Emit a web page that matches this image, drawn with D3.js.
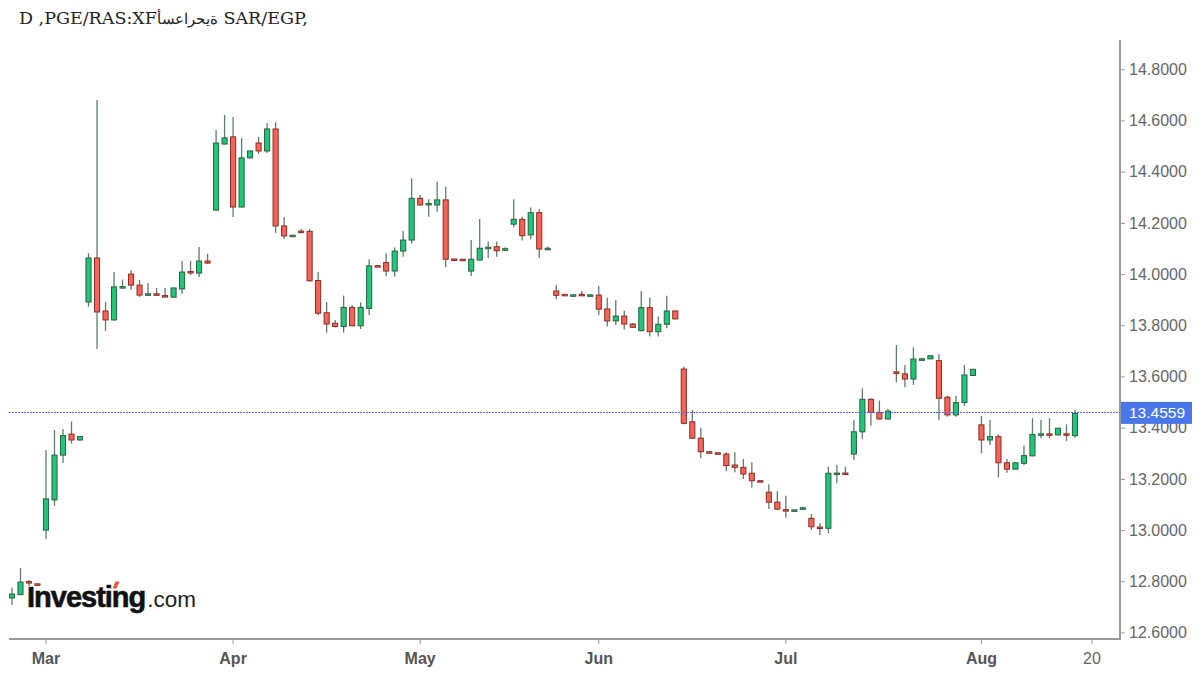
<!DOCTYPE html>
<html lang="en">

<head>
    <meta charset="UTF-8">
    <title>SAR/EGP daily candles</title>
    <script src="https://cdn.jsdelivr.net/npm/d3@7"></script>
    <style>
        body {
            margin: 0;
            background: #fff;
        }

        svg {
            display: block;
        }

        .yaxis text {
            font-family: "Liberation Sans", Arial, sans-serif;
            font-size: 16px;
            fill: #666;
        }

        .xaxis text {
            font-family: "Liberation Sans", Arial, sans-serif;
            font-size: 16px;
            font-weight: bold;
            fill: #555;
        }
    </style>
</head>

<body>
    <script>
        // trading days shown on the chart (2020, weekdays)
        const dates = [
            "2020-02-25", "2020-02-26", "2020-02-27", "2020-02-28",
            "2020-03-02", "2020-03-03", "2020-03-04", "2020-03-05", "2020-03-06",
            "2020-03-09", "2020-03-10", "2020-03-11", "2020-03-12", "2020-03-13",
            "2020-03-16", "2020-03-17", "2020-03-18", "2020-03-19", "2020-03-20",
            "2020-03-23", "2020-03-24", "2020-03-25", "2020-03-26", "2020-03-27",
            "2020-03-30", "2020-03-31",
            "2020-04-01", "2020-04-02", "2020-04-03",
            "2020-04-06", "2020-04-07", "2020-04-08", "2020-04-09", "2020-04-10",
            "2020-04-13", "2020-04-14", "2020-04-15", "2020-04-16", "2020-04-17",
            "2020-04-20", "2020-04-21", "2020-04-22", "2020-04-23", "2020-04-24",
            "2020-04-27", "2020-04-28", "2020-04-29", "2020-04-30",
            "2020-05-01",
            "2020-05-04", "2020-05-05", "2020-05-06", "2020-05-07", "2020-05-08",
            "2020-05-11", "2020-05-12", "2020-05-13", "2020-05-14", "2020-05-15",
            "2020-05-18", "2020-05-19", "2020-05-20", "2020-05-21", "2020-05-22",
            "2020-05-25", "2020-05-26", "2020-05-27", "2020-05-28", "2020-05-29",
            "2020-06-01", "2020-06-02", "2020-06-03", "2020-06-04", "2020-06-05",
            "2020-06-08", "2020-06-09", "2020-06-10", "2020-06-11", "2020-06-12",
            "2020-06-15", "2020-06-16", "2020-06-17", "2020-06-18", "2020-06-19",
            "2020-06-22", "2020-06-23", "2020-06-24", "2020-06-25", "2020-06-26",
            "2020-06-29", "2020-06-30",
            "2020-07-01", "2020-07-02", "2020-07-03",
            "2020-07-06", "2020-07-07", "2020-07-08", "2020-07-09", "2020-07-10",
            "2020-07-13", "2020-07-14", "2020-07-15", "2020-07-16", "2020-07-17",
            "2020-07-20", "2020-07-21", "2020-07-22", "2020-07-23", "2020-07-24",
            "2020-07-27", "2020-07-28", "2020-07-29", "2020-07-30", "2020-07-31",
            "2020-08-03", "2020-08-04", "2020-08-05", "2020-08-06", "2020-08-07",
            "2020-08-10", "2020-08-11", "2020-08-12", "2020-08-13", "2020-08-14",
            "2020-08-17", "2020-08-18"
        ];

        // empty slots before / after the data
        const leadSlots = ["2020-02-24"];
        const tailSlots = ["2020-08-19", "2020-08-20", "2020-08-21", "2020-08-24", "2020-08-25"];

        const open = [
            12.735, 12.748, 12.799, 12.790,
            13.000, 13.118, 13.293, 13.375, 13.352,
            13.891, 14.063, 13.856, 13.821, 13.948,
            14.000, 13.957, 13.920, 13.923, 13.916,
            13.910, 13.942, 14.010, 14.004, 14.051,
            14.250, 14.508,
            14.536, 14.262, 14.454,
            14.512, 14.481, 14.567, 14.188, 14.150,
            14.168, 14.167, 13.975, 13.849, 13.808,
            13.795, 13.870, 13.798, 13.866, 14.033,
            14.045, 14.012, 14.090, 14.133,
            14.296,
            14.275, 14.270, 14.290, 14.059, 14.058,
            14.012, 14.055, 14.103, 14.107, 14.097,
            14.195, 14.214, 14.153, 14.240, 14.099,
            13.934, 13.921, 13.917, 13.921, 13.917,
            13.918, 13.864, 13.817, 13.836, 13.805,
            13.779, 13.869, 13.775, 13.804, 13.856,
            13.629, 13.423, 13.359, 13.306, 13.302,
            13.297, 13.254, 13.245, 13.222, 13.193,
            13.148, 13.109,
            13.080, 13.077, 13.083,
            13.046, 13.012, 13.007, 13.221, 13.223,
            13.297, 13.384, 13.511, 13.460, 13.434,
            13.618, 13.610, 13.590, 13.667, 13.669,
            13.662, 13.519, 13.450, 13.498, 13.604,
            13.411, 13.352, 13.365, 13.263, 13.238,
            13.261, 13.290, 13.374, 13.376, 13.372,
            13.376, 13.369
        ];

        const high = [
            12.776, 12.852, 12.805, 12.792,
            13.313, 13.391, 13.395, 13.424, 13.366,
            14.082, 14.680, 13.891, 14.008, 13.979,
            14.016, 13.977, 13.965, 13.946, 13.946,
            13.946, 14.051, 14.051, 14.106, 14.079,
            14.563, 14.622,
            14.614, 14.532, 14.483,
            14.536, 14.590, 14.594, 14.223, 14.153,
            14.176, 14.176, 14.009, 13.891, 13.821,
            13.916, 13.879, 13.890, 14.058, 14.034,
            14.081, 14.105, 14.168, 14.374,
            14.309,
            14.292, 14.361, 14.341, 14.060, 14.059,
            14.133, 14.215, 14.127, 14.127, 14.105,
            14.292, 14.224, 14.261, 14.253, 14.108,
            13.957, 13.922, 13.921, 13.934, 13.921,
            13.954, 13.908, 13.899, 13.857, 13.809,
            13.934, 13.909, 13.834, 13.915, 13.858,
            13.638, 13.469, 13.400, 13.307, 13.303,
            13.304, 13.304, 13.278, 13.265, 13.194,
            13.179, 13.153,
            13.134, 13.080, 13.092,
            13.062, 13.027, 13.248, 13.254, 13.248,
            13.430, 13.554, 13.515, 13.506, 13.473,
            13.723, 13.645, 13.714, 13.673, 13.683,
            13.688, 13.525, 13.525, 13.645, 13.630,
            13.446, 13.430, 13.374, 13.278, 13.265,
            13.330, 13.437, 13.430, 13.437, 13.399,
            13.413, 13.469
        ];

        const low = [
            12.707, 12.746, 12.782, 12.785,
            12.965, 13.094, 13.262, 13.338, 13.350,
            13.872, 13.707, 13.778, 13.818, 13.946,
            13.938, 13.911, 13.914, 13.914, 13.910,
            13.909, 13.922, 13.997, 13.989, 14.040,
            14.248, 14.506,
            14.223, 14.260, 14.452,
            14.469, 14.473, 14.161, 14.137, 14.148,
            14.160, 13.971, 13.840, 13.771, 13.792,
            13.771, 13.797, 13.786, 13.840, 14.029,
            13.993, 13.990, 14.068, 14.120,
            14.268,
            14.224, 14.244, 14.027, 14.056, 14.055,
            13.993, 14.053, 14.062, 14.068, 14.091,
            14.183, 14.131, 14.136, 14.062, 14.093,
            13.902, 13.917, 13.915, 13.917, 13.916,
            13.840, 13.795, 13.801, 13.784, 13.789,
            13.777, 13.756, 13.756, 13.788, 13.823,
            13.413, 13.357, 13.281, 13.303, 13.299,
            13.231, 13.226, 13.200, 13.166, 13.190,
            13.082, 13.079,
            13.048, 13.076, 13.081,
            13.000, 12.981, 12.988, 13.183, 13.218,
            13.274, 13.356, 13.408, 13.432, 13.432,
            13.577, 13.558, 13.567, 13.665, 13.667,
            13.430, 13.443, 13.443, 13.485, 13.602,
            13.300, 13.332, 13.206, 13.224, 13.236,
            13.254, 13.288, 13.359, 13.359, 13.370,
            13.348, 13.361
        ];

        const close = [
            12.750, 12.797, 12.796, 12.787,
            13.122, 13.293, 13.369, 13.352, 13.365,
            14.063, 13.852, 13.821, 13.950, 13.951,
            13.957, 13.918, 13.923, 13.920, 13.913,
            13.946, 14.008, 14.007, 14.051, 14.043,
            14.512, 14.532,
            14.262, 14.454, 14.481,
            14.481, 14.567, 14.188, 14.149, 14.152,
            14.165, 13.974, 13.847, 13.805, 13.795,
            13.870, 13.798, 13.870, 14.032, 14.030,
            14.012, 14.090, 14.133, 14.296,
            14.270,
            14.276, 14.290, 14.058, 14.057, 14.056,
            14.058, 14.101, 14.105, 14.091, 14.099,
            14.214, 14.150, 14.240, 14.098, 14.101,
            13.917, 13.918, 13.919, 13.919, 13.919,
            13.863, 13.817, 13.836, 13.805, 13.792,
            13.869, 13.775, 13.804, 13.856, 13.825,
            13.417, 13.359, 13.306, 13.304, 13.300,
            13.252, 13.245, 13.219, 13.193, 13.191,
            13.109, 13.082,
            13.078, 13.079, 13.087,
            13.013, 13.010, 13.222, 13.223, 13.220,
            13.384, 13.511, 13.460, 13.434, 13.465,
            13.616, 13.590, 13.668, 13.669, 13.681,
            13.515, 13.450, 13.498, 13.606, 13.628,
            13.352, 13.365, 13.263, 13.238, 13.263,
            13.291, 13.374, 13.376, 13.374, 13.398,
            13.373, 13.4559
        ];

        const tickDates = ["2020-03-02", "2020-04-01", "2020-05-01", "2020-06-01", "2020-07-01", "2020-08-03", "2020-08-20"];
        const tickLabels = ["Mar", "Apr", "May", "Jun", "Jul", "Aug", "20"];
        const priceTicks = [12.6, 12.8, 13.0, 13.2, 13.4, 13.6, 13.8, 14.0, 14.2, 14.4, 14.6, 14.8];
        const lastPrice = 13.4559;

        const width = 1200;
        const height = 675;
        const plot = { left: 9, right: 1120, top: 40, bottom: 639 };
        const step = 8.504;

        const data = dates.map((d, i) => ({
            date: d,
            open: open[i],
            high: high[i],
            low: low[i],
            close: close[i]
        }));

        const slots = leadSlots.concat(dates, tailSlots);

        const svg = d3.select("body")
            .append("svg")
            .attr("width", width)
            .attr("height", height);

        const x = d3.scaleBand()
            .domain(slots)
            .range([-0.77, -0.77 + slots.length * step])
            .paddingInner(0.4)
            .paddingOuter(0.2);

        const y = d3.scaleLinear()
            .domain([12.6, 14.8])
            .range([632.5, 69.3]);

        svg.append("clipPath")
            .attr("id", "plotclip")
            .append("rect")
            .attr("x", plot.left)
            .attr("y", plot.top)
            .attr("width", plot.right - plot.left)
            .attr("height", plot.bottom - plot.top);

        // title (kept in the character order the original shows)
        const title = svg.append("text")
            .attr("x", 19)
            .attr("y", 24)
            .style("font-family", "'DejaVu Serif', serif")
            .style("font-size", "17.5px")
            .style("fill", "#222")
            .style("direction", "ltr")
            .style("unicode-bidi", "bidi-override");
        title.append("tspan").text("D ,PGE/RAS:XF");
        title.append("tspan").style("font-size", "14.5px").text("أسعارحية");
        title.append("tspan").text(" SAR/EGP,");

        // watermark logo
        const logo = svg.append("g");
        logo.append("text")
            .attr("x", 27)
            .attr("y", 607)
            .style("font-family", "'Liberation Sans', Arial, sans-serif")
            .style("font-size", "29px")
            .style("font-weight", "bold")
            .style("letter-spacing", "-1px")
            .style("fill", "#111")
            .style("stroke", "#111")
            .style("stroke-width", 0.6)
            .text("Investing")
            .append("tspan")
            .attr("dx", 2)
            .style("font-size", "22.5px")
            .style("font-weight", "normal")
            .style("letter-spacing", "0px")
            .style("stroke-width", 0)
            .style("fill", "#222")
            .text(".com");
        logo.append("path")
            .attr("d", "M112.5,588.5 L115.5,581.5 L119.5,581.5 L116.5,588.5 Z")
            .attr("fill", "#f0553e");

        // axes
        const yAxis = svg.append("g")
            .attr("class", "yaxis")
            .attr("transform", `translate(${plot.right},0)`)
            .call(d3.axisRight(y)
                .tickValues(priceTicks)
                .tickFormat(d3.format(".4f"))
                .tickSize(5)
                .tickSizeOuter(0)
                .tickPadding(4));
        yAxis.select(".domain").remove();
        yAxis.selectAll(".tick line").attr("stroke", "#999");

        const xAxis = svg.append("g")
            .attr("class", "xaxis")
            .attr("transform", `translate(0,${plot.bottom})`)
            .call(d3.axisBottom(x)
                .tickValues(tickDates)
                .tickFormat((d, i) => tickLabels[i])
                .tickSize(5)
                .tickSizeOuter(0)
                .tickPadding(9));
        xAxis.select(".domain").remove();
        xAxis.selectAll(".tick line").attr("stroke", "#999");
        xAxis.selectAll(".tick text")
            .filter((d, i) => i === tickLabels.length - 1)
            .style("font-weight", "normal")
            .style("fill", "#666");

        svg.append("line")
            .attr("x1", plot.left).attr("x2", plot.right)
            .attr("y1", plot.bottom).attr("y2", plot.bottom)
            .attr("stroke", "#999").attr("stroke-width", 2);
        svg.append("line")
            .attr("x1", plot.right).attr("x2", plot.right)
            .attr("y1", plot.top).attr("y2", plot.bottom + 1)
            .attr("stroke", "#999").attr("stroke-width", 2);

        // candles
        const candles = svg.append("g").attr("clip-path", "url(#plotclip)");
        const cx = d => x(d.date) + x.bandwidth() / 2;

        candles.selectAll(".wick")
            .data(data)
            .enter()
            .append("line")
            .attr("class", "wick")
            .attr("x1", cx).attr("x2", cx)
            .attr("y1", d => y(d.high))
            .attr("y2", d => y(d.low))
            .attr("stroke", "#5d7f69")
            .attr("stroke-width", 1.3);

        candles.selectAll(".body")
            .data(data)
            .enter()
            .append("rect")
            .attr("class", "body")
            .attr("x", d => x(d.date))
            .attr("width", x.bandwidth())
            .attr("y", d => y(Math.max(d.open, d.close)))
            .attr("height", d => Math.max(1.5, Math.abs(y(d.open) - y(d.close))))
            .attr("fill", d => d.close >= d.open ? "#1fc77b" : "#f7645a")
            .attr("stroke", d => d.close >= d.open ? "#2c5f40" : "#8b2b24")
            .attr("stroke-width", 1);

        // last price line and label (line snapped to the pixel grid so the dots stay blue)
        const lastY = Math.round(y(lastPrice)) - 0.5;
        svg.append("line")
            .attr("x1", plot.left).attr("x2", plot.right)
            .attr("y1", lastY).attr("y2", lastY)
            .attr("stroke", "#4c6ef5")
            .attr("stroke-width", 1)
            .attr("stroke-dasharray", "2,1");

        svg.append("rect")
            .attr("x", plot.right + 1)
            .attr("y", y(lastPrice) - 11.5)
            .attr("width", 71)
            .attr("height", 22)
            .attr("fill", "#4a78ea");

        svg.append("text")
            .attr("x", plot.right + 9)
            .attr("y", y(lastPrice) + 5)
            .style("font-family", "'Liberation Sans', Arial, sans-serif")
            .style("font-size", "15.5px")
            .style("fill", "#fff")
            .text(d3.format(".4f")(lastPrice));
    </script>
</body>

</html>
